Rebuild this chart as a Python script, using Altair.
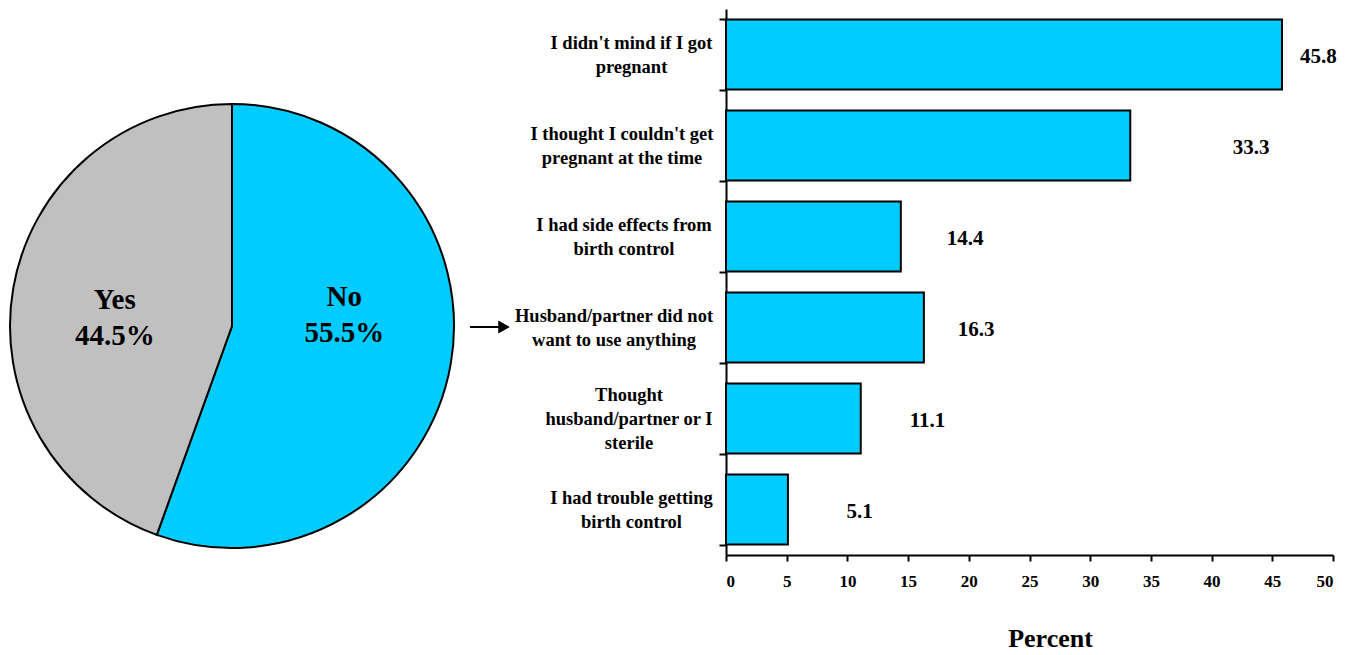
import json
import altair as alt
import pandas as pd

# ---- data ----
pie_labels = ["No", "Yes"]
pie_values = [55.5, 44.5]
pie_colors = ["#00CCFF", "#C0C0C0"]

reasons = [
    "I didn't mind if I got|pregnant",
    "I thought I couldn't get|pregnant at the time",
    "I had side effects from|birth control",
    "Husband/partner did not|want to use anything",
    "Thought|husband/partner or I|sterile",
    "I had trouble getting|birth control",
]
percents = [45.8, 33.3, 14.4, 16.3, 11.1, 5.1]
# gap between bar end and its value label (percent units), as placed in the original
label_gap = [3.0, 9.95, 5.3, 4.3, 5.5, 5.9]
# width (px) of each wrapped category label block: blocks are right-aligned, lines centred
label_block_width = [162, 181, 177, 197, 167, 162]

FONT = "Liberation Serif"
CYAN = "#00CCFF"
Y_TICK = 7
LABEL_GAP_TO_AXIS = 14  # space between block right edge and axis

pie_df = pd.DataFrame({"answer": pie_labels, "value": pie_values, "order": [0, 1]})
bar_df = pd.DataFrame({"reason": reasons, "pct": percents, "gap": label_gap})

# ---- pie ----
CX, CY, R = 224, 317, 222
pie_base = alt.Chart(pie_df)
arcs = pie_base.mark_arc(stroke="black", strokeWidth=2, x=CX, y=CY, outerRadius=R).encode(
    theta=alt.Theta("value:Q", stack=True),
    order=alt.Order("order:Q"),
    color=alt.Color("answer:N", scale=alt.Scale(domain=pie_labels, range=pie_colors), legend=None),
)


def pie_text(name, radius, dy):
    return (
        pie_base.transform_window(v1="sum(value)", sort=[alt.SortField("order")])
        .transform_calculate(mid="datum.v1 - datum.value / 2",
                             label="datum.answer + '\\n' + format(datum.value, '.1f') + '%'")
        .transform_filter(alt.datum.answer == name)
        .mark_text(font=FONT, fontSize=29, fontWeight="bold", color="black", x=CX, y=CY,
                   radius=radius, dy=dy, lineBreak="\n", lineHeight=36, align="center", baseline="middle")
        .encode(theta=alt.Theta("mid:Q", scale=alt.Scale(domain=[0, 100]), stack=None), text="label:N")
    )


arrow_line = alt.Chart(pie_df).mark_rule(color="black", strokeWidth=2).encode(
    x=alt.value(462), x2=alt.value(492), y=alt.value(318))
arrow_head = alt.Chart(pie_df).mark_point(shape="triangle-right", filled=True, color="black",
                                          opacity=1, size=160).encode(x=alt.value(496), y=alt.value(318))

pie = alt.layer(arcs, pie_text("No", 114, -49), pie_text("Yes", 119, -6), arrow_line, arrow_head).properties(
    width=510, height=546)

# ---- bars ----
pad_conditions = [
    {"test": f"datum.value == {json.dumps(r)}", "value": LABEL_GAP_TO_AXIS - Y_TICK + w / 2}
    for r, w in zip(reasons, label_block_width)
]

y_enc = alt.Y(
    "reason:N", sort=reasons,
    scale=alt.Scale(paddingInner=0.23, paddingOuter=0.115),
    axis=alt.Axis(title=None, tickBand="extent", labelExpr="split(datum.label, '|')",
                  labelAlign="center", labelBaseline="middle",
                  labelPadding={"condition": pad_conditions, "value": 95},
                  labelLineHeight=24,
                  labelOffset={"condition": {"test": "length(split(datum.label, '|')) > 2", "value": -24},
                               "value": -12},
                  labelFont=FONT, labelFontSize=18.5, labelFontWeight="bold", labelColor="black",
                  domainColor="black", domainWidth=2, tickColor="black", tickWidth=2, tickSize=Y_TICK,
                  labelLimit=400, grid=False),
)
x_axis = alt.Axis(values=list(range(0, 55, 5)), title="Percent", grid=False,
                  labelFont=FONT, labelFontSize=17, labelFontWeight="bold", labelColor="black",
                  labelPadding=12, titleFont=FONT, titleFontSize=26, titleFontWeight="bold",
                  titleColor="black", titlePadding=36, titleX=324, titleAlign="center",
                  domainColor="black", domainWidth=2, tickColor="black", tickWidth=2, tickSize=6)
bars = alt.Chart(bar_df).mark_bar(color=CYAN, stroke="black", strokeWidth=2).encode(
    x=alt.X("pct:Q", scale=alt.Scale(domain=[0, 50], nice=False), axis=x_axis),
    y=y_enc,
)
values = alt.Chart(bar_df).transform_calculate(pos="datum.pct + datum.gap").mark_text(
    font=FONT, fontSize=21, fontWeight="bold", color="black", align="center", baseline="middle", dy=2
).encode(
    x=alt.X("pos:Q", axis=x_axis),
    y=alt.Y("reason:N", sort=reasons),
    text=alt.Text("pct:Q", format=".1f"),
)
bar_chart = alt.layer(bars, values).properties(width=607, height=546)

chart = alt.hconcat(pie, bar_chart, spacing=208, bounds="flush").properties(
    padding={"left": -2, "top": -8, "right": 0, "bottom": 0}
).configure_view(strokeWidth=0).configure_axisX(
    labelFont=FONT, labelFontSize=17, labelFontWeight="bold", labelColor="black")

chart.save("out.html", embed_options={"renderer": "svg", "actions": False})
